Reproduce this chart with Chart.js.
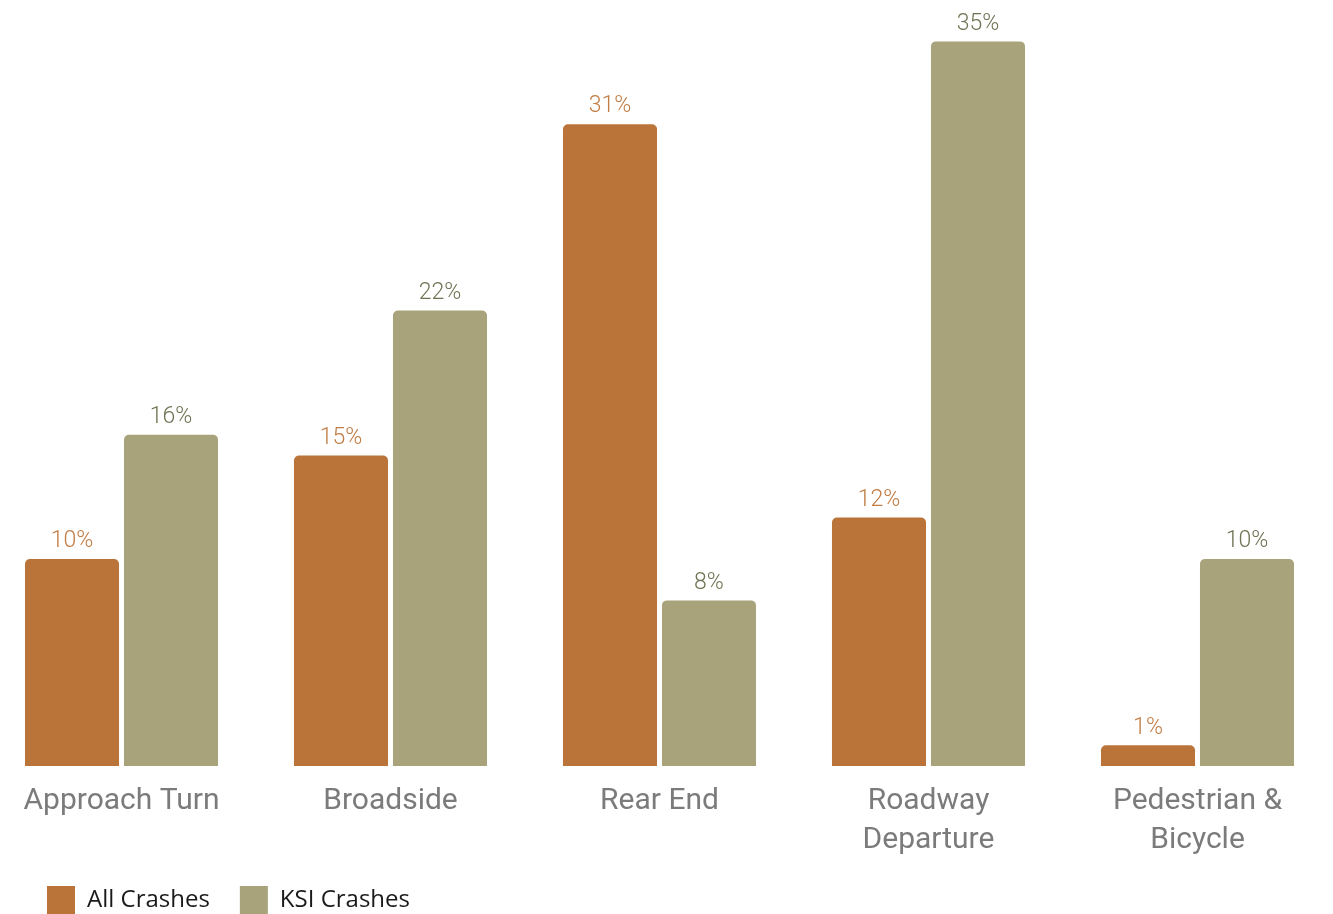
<!DOCTYPE html>
<html>
<head>
<meta charset="utf-8">
<script src="https://cdn.jsdelivr.net/npm/chart.js@4"></script>
<style>
	html, body { margin: 0; padding: 0; background: #fff; overflow: hidden; }
	.canvas-container { position: absolute; left: -13px; top: 0; width: 1345px; height: 944px; }
</style>
</head>
<body>
<div class="canvas-container">
	<canvas id="chart"></canvas>
</div>
<script>
// crash type shares, in percent
const categories = ["Approach Turn", "Broadside", "Rear End", ["Roadway", "Departure"], ["Pedestrian &", "Bicycle"]];
const allCrashes = [10, 15, 31, 12, 1];
const ksiCrashes = [16, 22, 8, 35, 10];

const colors = {
	all: { bar: "#BA7439", text: "#C17D45" },
	ksi: { bar: "#A8A37B", text: "#6E7453" },
};

// writes the value above each bar
const valueLabels = {
	id: "valueLabels",
	afterDatasetsDraw(chart) {
		const ctx = chart.ctx;
		ctx.save();
		ctx.font = "300 23px Roboto";
		ctx.textAlign = "center";
		ctx.textBaseline = "bottom";
		chart.data.datasets.forEach((ds, i) => {
			const meta = chart.getDatasetMeta(i);
			ctx.fillStyle = ds.labelColor;
			meta.data.forEach((bar, j) => {
				ctx.fillText(ds.data[j] + "%", bar.x, bar.y - 6);
			});
		});
		ctx.restore();
	},
};

// move the legend in from the left edge and up closer to the axis
const legendShift = {
	id: "legendShift",
	afterLayout(chart) {
		const lg = chart.legend;
		lg.left += 30;
		lg.right += 30;
		lg.top -= 20;
		lg.bottom -= 20;
	},
};

const ctx = document.getElementById("chart").getContext("2d");
new Chart(ctx, {
	type: "bar",
	data: {
		labels: categories,
		datasets: [
			{
				label: "All Crashes",
				data: allCrashes,
				backgroundColor: colors.all.bar,
				labelColor: colors.all.text,
				borderRadius: 5,
				categoryPercentage: 0.736,
				barPercentage: 0.95,
			},
			{
				label: "KSI Crashes",
				data: ksiCrashes,
				backgroundColor: colors.ksi.bar,
				labelColor: colors.ksi.text,
				borderRadius: 5,
				categoryPercentage: 0.736,
				barPercentage: 0.95,
			},
		],
	},
	options: {
		responsive: true,
		maintainAspectRatio: false,
		animation: false,
		layout: { padding: 0 },
		plugins: {
			tooltip: { enabled: false },
			legend: {
				position: "bottom",
				align: "start",
				labels: {
					boxWidth: 28,
					boxHeight: 28,
					padding: 30,
					color: "#1a1a1a",
					font: { family: "'Open Sans'", size: 24 },
				},
			},
		},
		scales: {
			x: {
				grid: { display: false, drawTicks: false },
				border: { display: false },
				ticks: {
					padding: 16,
					color: "#7B7B7B",
					font: { family: "Roboto", size: 30, lineHeight: 1.3 },
				},
			},
			y: {
				display: false,
				min: 0,
				max: 37,
			},
		},
	},
	plugins: [valueLabels, legendShift],
});
</script>
</body>
</html>
